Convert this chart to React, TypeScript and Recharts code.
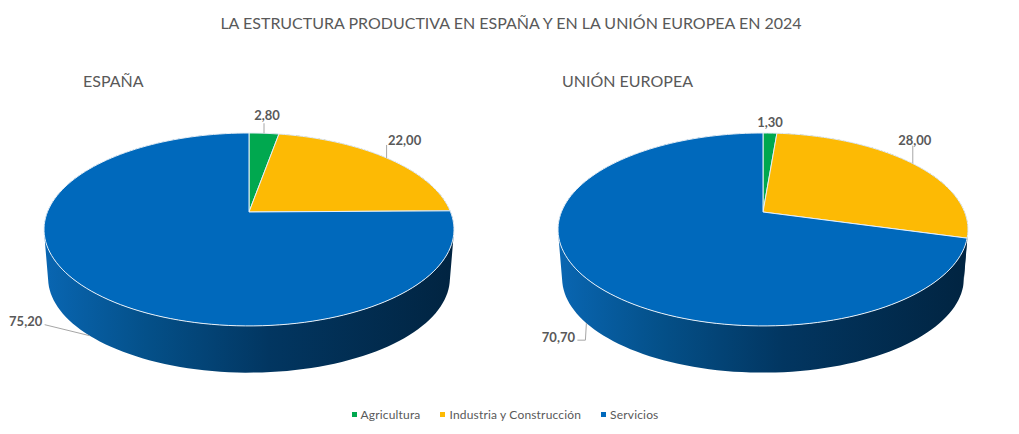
import { PieChart, Pie, Cell, Legend } from 'recharts';

const categories = ['Agricultura', 'Industria y Construcción', 'Servicios'];
const espana = [2.8, 22.0, 75.2];
const unionEuropea = [1.3, 28.0, 70.7];

const COLORS = ['#00A84F', '#FDBA04', '#0069BC'];
const WALL_COLORS = ['#012441', '#012441', 'url(#wallBlue)'];

const WIDTH = 1019;
const HEIGHT = 434;
const RADIUS = 201.6;
const CENTER_Y = 212;
const ESPANA_X = 249;
const UE_X = 763;

// tilt of the fake 3D disc
const PERSPECTIVE = 0.181;
const SQUASH = 0.4628;
const BOTTOM_SCALE = 0.98;
const DROP = 49;

// label offset from the rim point of each slice, and whether the leader starts at the bottom ring
const ESPANA_LABELS = [
  { dx: 3, dy: -18, anchor: 0, line: 10 },
  { dx: 18, dy: -18, anchor: 0, line: 13 },
  { dx: -64, dy: -15, anchor: 1, line: 0 },
];
const UE_LABELS = [
  { dx: 0, dy: -11, anchor: 0, line: 0 },
  { dx: 2, dy: -24, anchor: 0, line: 18 },
  { dx: -28, dy: 14, anchor: 1, line: 0 },
];

const toRows = (values: number[]) => categories.map((name, i) => ({ name, value: values[i] }));
const comma = (v: number) => v.toFixed(2).replace('.', ',');

function project(cx: number, cy: number, r: number, theta: number, scale = 1, drop = 0) {
  const rad = (theta * Math.PI) / 180;
  const d = 1 + PERSPECTIVE * Math.cos(rad);
  return {
    x: cx + (scale * r * Math.sin(rad)) / d,
    y: cy + drop - (scale * r * SQUASH * Math.cos(rad)) / d,
  };
}

function arcPoints(cx: number, cy: number, r: number, from: number, to: number, scale = 1, drop = 0) {
  const steps = Math.max(2, Math.ceil(Math.abs(to - from) / 2));
  const pts = [];
  for (let i = 0; i <= steps; i++) {
    pts.push(project(cx, cy, r, from + ((to - from) * i) / steps, scale, drop));
  }
  return pts;
}

const toD = (pts: { x: number; y: number }[]) =>
  pts.map((p, i) => `${i === 0 ? 'M' : 'L'}${p.x.toFixed(2)},${p.y.toFixed(2)}`).join(' ');

function TopSlice(props: any) {
  const { cx, cy, outerRadius, startAngle, endAngle, fill } = props;
  const pts = arcPoints(cx, cy, outerRadius, 90 - startAngle, 90 - endAngle);
  return (
    <path
      d={`M${cx},${cy} ${toD(pts).replace('M', 'L')} Z`}
      fill={fill}
      stroke="#e6eff7"
      strokeWidth={1}
      strokeLinejoin="round"
    />
  );
}

function WallSlice(props: any) {
  const { cx, cy, outerRadius, startAngle, endAngle, fill } = props;
  const top = arcPoints(cx, cy, outerRadius, 90 - startAngle, 90 - endAngle);
  const bottom = arcPoints(cx, cy, outerRadius, 90 - startAngle, 90 - endAngle, BOTTOM_SCALE, DROP);
  // one quad per arc step, all wound the same way so the fill is their union
  const quads = [];
  for (let i = 0; i < top.length - 1; i++) {
    const q = [top[i], top[i + 1], bottom[i + 1], bottom[i]];
    let area = 0;
    q.forEach((p, k) => {
      const n = q[(k + 1) % 4];
      area += p.x * n.y - n.x * p.y;
    });
    if (area < 0) q.reverse();
    quads.push(`${toD(q)} Z`);
  }
  return <path d={quads.join(' ')} fill={fill} fillRule="nonzero" />;
}

const makeLabel = (offsets: typeof ESPANA_LABELS) => (props: any) => {
  const { cx, cy, outerRadius, midAngle, value, index } = props;
  const o = offsets[index];
  const theta = 90 - midAngle;
  const rim = o.anchor
    ? project(cx, cy, outerRadius, theta, BOTTOM_SCALE, DROP)
    : project(cx, cy, outerRadius, theta);
  const tx = rim.x + o.dx;
  const ty = rim.y + o.dy;
  let leader = '';
  if (o.anchor) {
    // elbow towards the text on the left
    const ex = tx + 19;
    leader = index === 2 && o.dy > 0
      ? `M${ex},${ty + 3} L${ex + 8},${ty + 3} L${rim.x},${rim.y}`
      : `M${ex},${ty + 4} L${rim.x},${rim.y}`;
  } else if (o.line) {
    leader = `M${rim.x},${rim.y} L${rim.x},${rim.y - o.line}`;
  }
  return (
    <g>
      {leader && <path d={leader} fill="none" stroke="#a6a6a6" strokeWidth={1} />}
      <text
        x={tx}
        y={ty}
        textAnchor="middle"
        dominantBaseline="central"
        fontFamily="Lato"
        fontWeight={700}
        fontSize={13}
        fill="#595959"
      >
        {comma(value)}
      </text>
    </g>
  );
};

function LegendRow() {
  return (
    <div
      style={{
        display: 'flex',
        justifyContent: 'center',
        fontFamily: 'Lato',
        fontSize: 12,
        letterSpacing: 0.17,
        color: '#595959',
      }}
    >
      {categories.map((name, i) => (
        <span key={name} style={{ display: 'flex', alignItems: 'center', marginRight: i < 2 ? 20 : 0 }}>
          <span style={{ width: 5, height: 5, background: COLORS[i], marginRight: 4 }} />
          {name}
        </span>
      ))}
    </div>
  );
}

const headingStyle = { fontFamily: 'Lato', fill: '#595959' };

export default function App() {
  const pies = [
    { rows: toRows(espana), cx: ESPANA_X, labels: ESPANA_LABELS },
    { rows: toRows(unionEuropea), cx: UE_X, labels: UE_LABELS },
  ];
  return (
    <div style={{ position: 'absolute', left: 0, top: 0, width: WIDTH, height: HEIGHT, background: '#fff' }}>
      <PieChart width={WIDTH} height={HEIGHT} margin={{ top: 0, right: 0, bottom: 0, left: 0 }}>
        <defs>
          <linearGradient id="wallBlue" x1="0" y1="0" x2="1" y2="0">
            <stop offset="0%" stopColor="#0966b2" />
            <stop offset="25%" stopColor="#045089" />
            <stop offset="55%" stopColor="#023661" />
            <stop offset="100%" stopColor="#012441" />
          </linearGradient>
        </defs>
        <text x={511} y={22} textAnchor="middle" dominantBaseline="central" fontSize={16} style={headingStyle}>
          LA ESTRUCTURA PRODUCTIVA EN ESPAÑA Y EN LA UNIÓN EUROPEA EN 2024
        </text>
        <text x={83} y={80} dominantBaseline="central" fontSize={16} style={headingStyle}>
          ESPAÑA
        </text>
        <text x={562} y={80} dominantBaseline="central" fontSize={16} style={headingStyle}>
          UNIÓN EUROPEA
        </text>
        {pies.map((p) => (
          <Pie
            key={`wall-${p.cx}`}
            data={p.rows}
            dataKey="value"
            nameKey="name"
            cx={p.cx}
            cy={CENTER_Y}
            outerRadius={RADIUS}
            startAngle={90}
            endAngle={-270}
            stroke="none"
            legendType="none"
            shape={WallSlice}
            isAnimationActive={false}
          >
            {p.rows.map((r, i) => (
              <Cell key={r.name} fill={WALL_COLORS[i]} />
            ))}
          </Pie>
        ))}
        {pies.map((p) => (
          <Pie
            key={`top-${p.cx}`}
            data={p.rows}
            dataKey="value"
            nameKey="name"
            cx={p.cx}
            cy={CENTER_Y}
            outerRadius={RADIUS}
            startAngle={90}
            endAngle={-270}
            legendType="none"
            shape={TopSlice}
            label={makeLabel(p.labels)}
            labelLine={false}
            isAnimationActive={false}
          >
            {p.rows.map((r, i) => (
              <Cell key={r.name} fill={COLORS[i]} />
            ))}
          </Pie>
        ))}
        <Legend content={<LegendRow />} verticalAlign="bottom" wrapperStyle={{ bottom: 12, left: -4.5, width: WIDTH }} />
      </PieChart>
    </div>
  );
}
